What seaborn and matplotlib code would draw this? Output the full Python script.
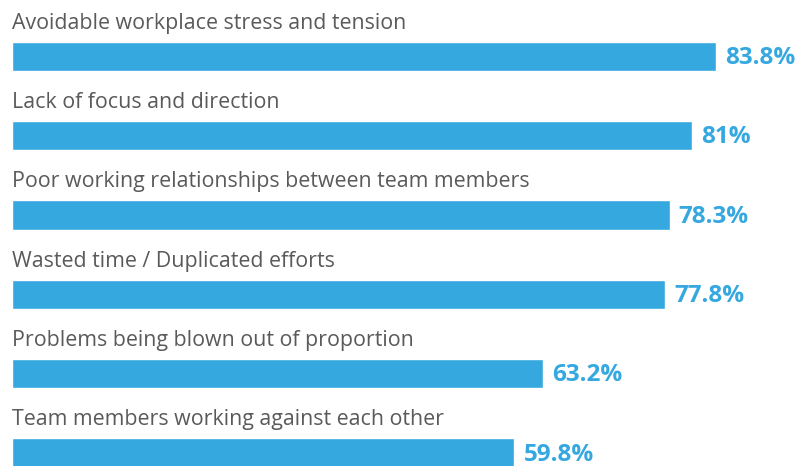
import matplotlib
matplotlib.use("Agg")
import matplotlib.pyplot as plt
import pandas as pd
import seaborn as sns

CATEGORIES = [
    "Avoidable workplace stress and tension",
    "Lack of focus and direction",
    "Poor working relationships between team members",
    "Wasted time / Duplicated efforts",
    "Problems being blown out of proportion",
    "Team members working against each other",
]
VALUES = [83.8, 81, 78.3, 77.8, 63.2, 59.8]
VALUE_LABELS = ["83.8%", "81%", "78.3%", "77.8%", "63.2%", "59.8%"]

BLUE = "#35a8e0"
GREY = "#5a5a5a"

sns.set_theme(style="white")
plt.rcParams["font.family"] = ["Open Sans", "DejaVu Sans"]

df = pd.DataFrame({"cat": CATEGORIES, "val": VALUES})

fig = plt.figure(figsize=(8.04, 4.66), dpi=100)
ax = fig.add_axes([0, 0, 1, 1])
sns.barplot(data=df, x="val", y="cat", color=BLUE, width=0.37,
            saturation=1, ax=ax, orient="h")

for i, (cat, val, lab) in enumerate(zip(CATEGORIES, VALUES, VALUE_LABELS)):
    ax.text(0, i - 0.42, cat, ha="left", va="center", fontsize=15.4, color=GREY)
    ax.text(val + 1.1, i + 0.02, lab, ha="left", va="center", fontsize=17.5,
            fontweight="bold", color=BLUE)

ax.set_xlim(-1.43, 94.3)
ax.set_ylim(5.164, -0.712)
ax.axis("off")

fig.savefig("out.png", dpi=100)
